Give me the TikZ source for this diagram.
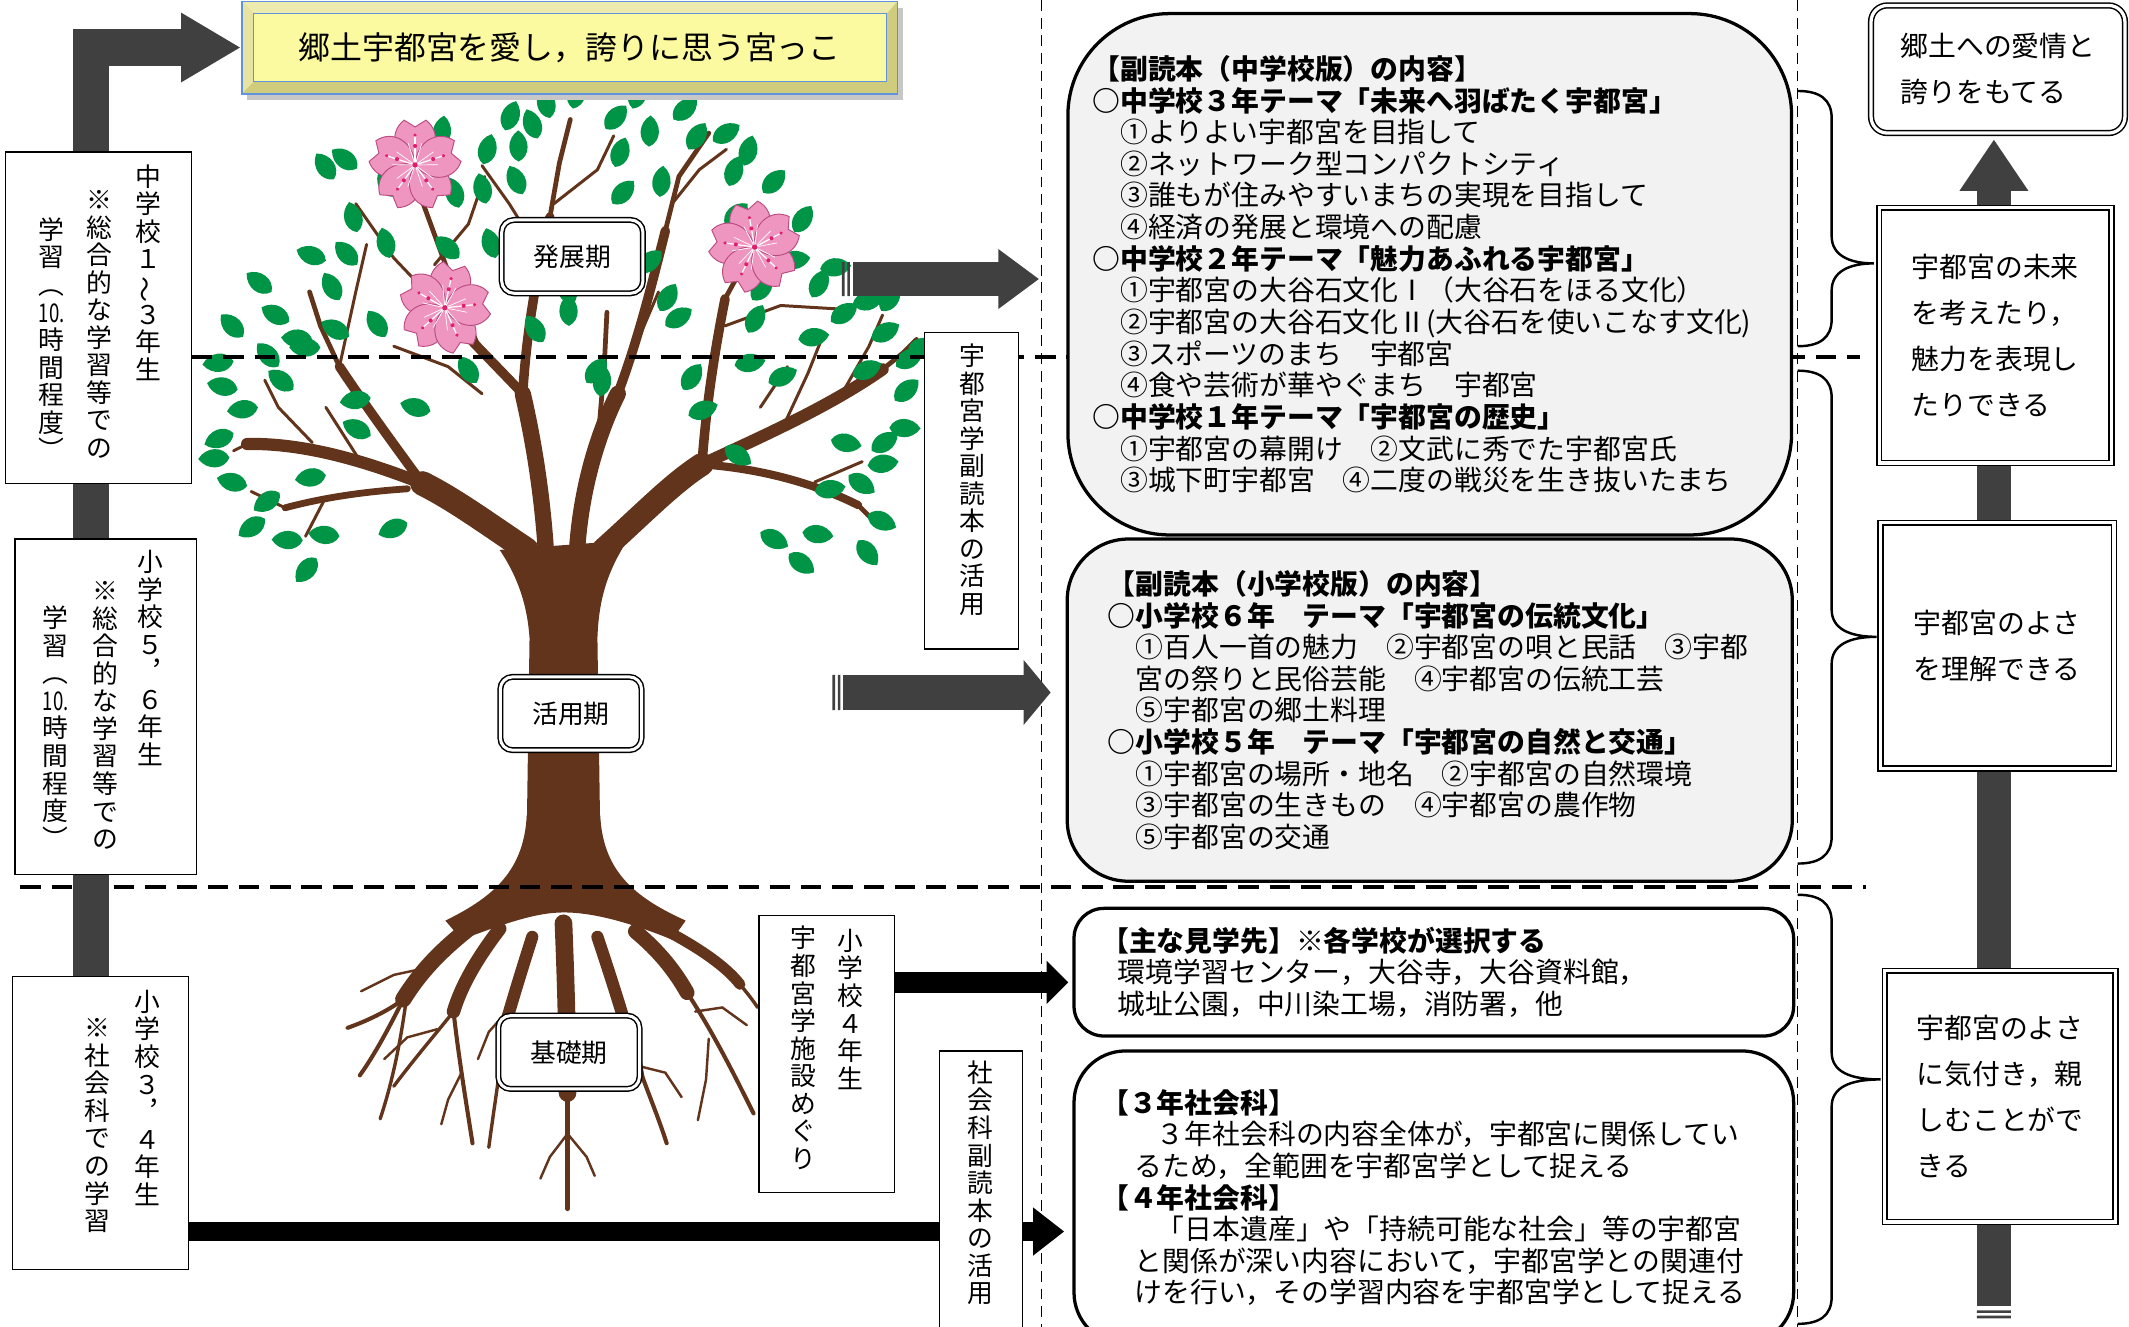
\documentclass[tikz,border=0pt]{standalone}
\usepackage{fontspec}
\usepackage{graphicx}
\setmainfont{Noto Sans CJK JP}
\usetikzlibrary{arrows.meta}

\definecolor{bark}{RGB}{97,52,27}
\definecolor{leafgreen}{RGB}{0,148,70}
\definecolor{petal}{RGB}{238,150,192}
\definecolor{petaledge}{RGB}{186,76,130}
\definecolor{stamen}{RGB}{225,30,110}
\definecolor{arrowgray}{RGB}{64,64,64}
\definecolor{boxgray}{RGB}{242,242,242}
\definecolor{goalface}{RGB}{252,250,160}
\definecolor{goalbevel}{RGB}{208,204,126}
\definecolor{goaltop}{RGB}{236,234,172}
\definecolor{goalline}{RGB}{96,146,222}

\pgfdeclarelayer{treelayer}
\pgfdeclarelayer{arrowlayer}
\pgfsetlayers{treelayer,arrowlayer,main}

\makeatletter
\newcommand{\tate}[1]{\vbox{\@tfor\tatec:=#1\do{\hbox to 1em{\hss\tatec\hss}}}}
\makeatother
\newcommand{\wave}{\rotatebox[origin=c]{90}{～}}
\newcommand{\ten}{\scalebox{0.72}[1]{10.}}
\newcommand{\sidebrace}[4]{% top, tip, bottom, tip x
	\draw[line width=1.8pt] (1324,#1) .. controls (1340,#1) and (1349,{#1+6}) .. (1349,{#1+20})
		-- (1349,{#2-20}) .. controls (1349,{#2-6}) and (1362,#2) .. (#4,#2)
		.. controls (1362,#2) and (1349,{#2+6}) .. (1349,{#2+20})
		-- (1349,{#3-20}) .. controls (1349,{#3-6}) and (1340,#3) .. (1324,#3);}

\tikzset{
	leaf/.pic={\fill[leafgreen] (0,0) .. controls (4,9) and (17,9) .. (23,0) .. controls (17,-9) and (4,-9) .. (0,0);},
	sakura/.pic={
		\foreach \r in {0,72,...,288}
			\filldraw[fill=petal,draw=petaledge,line width=0.7pt,rotate=\r] (0,0) .. controls (-16,-6) and (-20,-24) .. (-8,-33) -- (0,-28) -- (8,-33) .. controls (20,-24) and (16,-6) .. (0,0);
		\foreach \r in {0,72,...,288}{
			\draw[white,line width=0.9pt,rotate=\r] (0,0) -- (0,-22);
			\draw[white,line width=0.5pt,rotate=\r] (0,0) -- (5,-16) (0,0) -- (-5,-16);
			\fill[stamen,rotate=\r] (0,-14) circle (1.5) (0,-22) circle (1.3);}
		\fill[stamen] (0,0) circle (2);
	},
	limb/.style={bark,line cap=round},
	vbox/.style={draw,fill=white,line width=0.9pt},
	tatecol/.style={anchor=north,inner sep=0pt,font=\fontsize{19}{20.3}\selectfont},
	textbox/.style={draw,line width=2.4pt,align=left,inner ysep=0pt,font=\fontsize{20.5}{23.3}\selectfont},
	phase/.style={draw,double,line width=1.1pt,double distance=2.2pt,fill=white,rounded corners=9pt,minimum width=104,minimum height=54,font=\fontsize{19}{20}\selectfont},
	aimbox/.style={draw,double,line width=1.1pt,double distance=2.4pt,fill=white,align=left,font=\fontsize{20.5}{34}\selectfont},
	sepline/.style={line width=3pt,dash pattern=on 15pt off 8pt},
	colline/.style={line width=0.9pt,dash pattern=on 8pt off 5pt}
}

\begin{document}
\begin{tikzpicture}[x=1pt,y=-1pt]
	\useasboundingbox (0,0) rectangle (1568,977);

	% goal
	\fill[black!22] (182,6) rectangle (665,74);
	\node[draw=goalline,line width=1.2pt,fill=goalbevel,minimum width=483,minimum height=68,font=\fontsize{23.5}{24}\selectfont,
		path picture={
			\fill[goaltop] (path picture bounding box.north west) -- (path picture bounding box.north east) -- ([shift={(-8,9)}]path picture bounding box.north east) -- ([shift={(9,9)}]path picture bounding box.north west) -- cycle;
			\fill[goaltop!80!goalbevel] (path picture bounding box.north west) -- ([shift={(9,9)}]path picture bounding box.north west) -- ([shift={(9,-9)}]path picture bounding box.south west) -- (path picture bounding box.south west) -- cycle;
			\filldraw[fill=goalface,draw=goalline,line width=0.8pt] ([shift={(9,9)}]path picture bounding box.north west) rectangle ([shift={(-8,-9)}]path picture bounding box.south east);
		}] (goal) at (419.5,35) {郷土宇都宮を愛し，誇りに思う宮っこ};

	% left column
	\node[vbox,minimum width=137,minimum height=244] (j13) at (72.5,234) {};
	\node[tatecol] at (109,121) {\tate{中学校１{\wave}３年生}};
	\node[tatecol] at (73,140) {\tate{※総合的な学習等での}};
	\node[tatecol] at (38,160) {\tate{学習︵{\ten}時間程度︶}};
	\node[vbox,minimum width=134,minimum height=247] (e56) at (78,520.5) {};
	\node[tatecol] at (111,405) {\tate{小学校５︐６年生}};
	\node[tatecol] at (77.5,428) {\tate{※総合的な学習等での}};
	\node[tatecol] at (41,446) {\tate{学習︵{\ten}時間程度︶}};
	\node[vbox,minimum width=130,minimum height=216] (e34) at (74,827) {};
	\node[tatecol] at (108.5,729) {\tate{小学校３︐４年生}};
	\node[tatecol] at (72,750) {\tate{※社会科での学習}};

	% tree labels
	\node[phase] (hatten) at (421.5,189) {発展期};
	\node[phase] (katsuyo) at (420.5,525.5) {活用期};
	\node[phase] (kiso) at (419,775) {基礎期};

	% middle column
	\node[vbox,minimum width=69,minimum height=233] (fk1) at (715.5,361.5) {};
	\node[tatecol] at (716,253) {\tate{宇都宮学副読本の活用}};
	\node[vbox,minimum width=100,minimum height=204] (sk4) at (609,776) {};
	\node[tatecol] at (626,684) {\tate{小学校４年生}};
	\node[tatecol] at (591.5,682) {\tate{宇都宮学施設めぐり}};
	\node[vbox,minimum width=61,minimum height=216] (sfk) at (722.5,882) {};
	\node[tatecol] at (722,781) {\tate{社会科副読本の活用}};

	% contents
	\node[textbox,fill=boxgray,rounded corners=75pt,minimum width=533,minimum height=384,text width=497,inner xsep=18pt] (cj) at (1053,202) {%
		{\bfseries 【副読本（中学校版）の内容】}\\
		{\bfseries ○中学校３年テーマ「未来へ羽ばたく宇都宮」}\\
		　①よりよい宇都宮を目指して\\
		　②ネットワーク型コンパクトシティ\\
		　③誰もが住みやすいまちの実現を目指して\\
		　④経済の発展と環境への配慮\\
		{\bfseries ○中学校２年テーマ「魅力あふれる宇都宮」}\\
		　①宇都宮の大谷石文化Ⅰ（大谷石をほる文化）\\
		　②宇都宮の大谷石文化Ⅱ(大谷石を使いこなす文化)\\
		　③スポーツのまち　宇都宮\\
		　④食や芸術が華やぐまち　宇都宮\\
		{\bfseries ○中学校１年テーマ「宇都宮の歴史」}\\
		　①宇都宮の幕開け　②文武に秀でた宇都宮氏\\
		　③城下町宇都宮　④二度の戦災を生き抜いたまち};
	\node[textbox,fill=boxgray,rounded corners=45pt,minimum width=534,minimum height=252,text width=474,inner xsep=30pt] (ce) at (1053,523) {%
		{\bfseries 【副読本（小学校版）の内容】}\\
		{\bfseries ○小学校６年　テーマ「宇都宮の伝統文化」}\\
		　①百人一首の魅力　②宇都宮の唄と民話　③宇都\\
		　宮の祭りと民俗芸能　④宇都宮の伝統工芸\\
		　⑤宇都宮の郷土料理\\
		{\bfseries ○小学校５年　テーマ「宇都宮の自然と交通」}\\
		　①宇都宮の場所・地名　②宇都宮の自然環境\\
		　③宇都宮の生きもの　④宇都宮の農作物\\
		　⑤宇都宮の交通};
	\node[textbox,fill=white,rounded corners=22pt,minimum width=530,minimum height=94,text width=490,inner xsep=20pt] (see) at (1056,716) {%
		{\bfseries 【主な見学先】※各学校が選択する}\\
		\hspace*{0.6em}環境学習センター，大谷寺，大谷資料館，\\
		\hspace*{0.6em}城址公園，中川染工場，消防署，他};
	\node[textbox,fill=white,rounded corners=38pt,minimum width=530,minimum height=216,text width=490,inner xsep=20pt] (soc) at (1056,882) {%
		{\bfseries 【３年社会科】}\\
		\hspace*{2em}３年社会科の内容全体が，宇都宮に関係してい\\
		\hspace*{1.2em}るため，全範囲を宇都宮学として捉える\\
		{\bfseries 【４年社会科】}\\
		\hspace*{2em}「日本遺産」や「持続可能な社会」等の宇都宮\\
		\hspace*{1.2em}と関係が深い内容において，宇都宮学との関連付\\
		\hspace*{1.2em}けを行い，その学習内容を宇都宮学として捉える};

	% aims
	\node[aimbox,rounded corners=12pt,minimum width=187,minimum height=94] (rA) at (1471.5,51) {郷土への愛情と\\誇りをもてる};
	\node[aimbox,minimum width=171,minimum height=188] (rB) at (1469.5,247) {宇都宮の未来\\を考えたり，\\魅力を表現し\\たりできる};
	\node[aimbox,minimum width=172,minimum height=181] (rC) at (1471,475.5) {宇都宮のよさ\\を理解できる};
	\node[aimbox,minimum width=170,minimum height=185] (rD) at (1473,807.5) {宇都宮のよさ\\に気付き，親\\しむことがで\\きる};

	\sidebrace{67}{194}{255}{1380}
	\sidebrace{273}{469}{636}{1382}
	\sidebrace{659}{795}{975}{1385}

	\begin{pgfonlayer}{arrowlayer}
		\draw[sepline] (j13.east |- 0,263) -- (1370,263);
		\draw[sepline] (15,653) -- (1374,653);
		\draw[colline] (767,0) -- (767,977);
		\draw[colline] (1324,0) -- (1324,977);
		% arrows
		\coordinate (bar) at (67,0);
		\draw[arrowgray,line width=27pt,-{Triangle[length=44pt,width=48pt]}] (e34.north -| bar) -- (bar |- goal.west) -- (goal.west);
		\coordinate (rbot) at (1468.5,962);
		\draw[arrowgray,line width=25pt,-{Triangle[length=38pt,width=48pt]},shorten >=4pt] (rbot) -- (rbot |- rA.south);
		\fill[arrowgray] (1456,965) rectangle (1481,967) (1456,969) rectangle (1481,971);
		\coordinate (t1) at (628,205.5);
		\draw[arrowgray,line width=25pt,-{Triangle[length=30pt,width=42pt]},shorten >=20pt] (t1) -- (t1 -| cj.west);
		\fill[arrowgray] (620,193) rectangle (622,218) (624,193) rectangle (626,218);
		\coordinate (t2) at (621,510);
		\draw[arrowgray,line width=26pt,-{Triangle[length=20pt,width=47pt]},shorten >=11pt] (t2) -- (t2 -| ce.west);
		\fill[arrowgray] (613,497) rectangle (615,523) (617,497) rectangle (619,523);
		\coordinate (a4) at (0,723.5);
		\draw[line width=15pt,-{Triangle[length=16pt,width=31pt]},shorten >=3pt] (sk4.east |- a4) -- (see.west |- a4);
		\coordinate (a3) at (0,907);
		\draw[line width=14.5pt,-{Triangle[length=23pt,width=34pt]},shorten >=6pt] (e34.east |- a3) -- (soc.west |- a3);
	\end{pgfonlayer}

	\begin{pgfonlayer}{treelayer}
		% trunk and roots
		\fill[bark] (388,610) -- (390,470) .. controls (388,440) and (378,420) .. (368,405) -- (462,398) .. controls (448,420) and (441,440) .. (440,470) -- (442,610) -- cycle;
		\fill[bark] (388,600) .. controls (386,640) and (365,660) .. (328,678) -- (340,692) .. controls (372,680) and (395,672) .. (415,672) .. controls (438,672) and (465,680) .. (495,692) -- (505,678) .. controls (465,660) and (444,640) .. (442,600) -- cycle;
		\begin{scope}[limb]
			% roots
			\draw[line width=12pt] (345,684) .. controls (325,700) and (310,715) .. (297,736);
			\draw[line width=3pt] (297,736) .. controls (285,745) and (270,752) .. (256,757);
			\draw[line width=3pt] (297,736) .. controls (285,760) and (275,778) .. (265,792);
			\draw[line width=2.5pt] (300,730) .. controls (295,770) and (288,800) .. (280,824);
			\draw[line width=10pt] (368,684) .. controls (352,705) and (340,725) .. (334,745);
			\draw[line width=3pt] (334,745) .. controls (338,780) and (343,810) .. (348,842);
			\draw[line width=2.5pt] (334,745) .. controls (318,765) and (305,780) .. (290,800);
			\draw[line width=9pt] (392,690) .. controls (384,715) and (378,735) .. (373,752);
			\draw[line width=2.5pt] (373,752) .. controls (368,790) and (364,815) .. (360,845);
			\draw[line width=13pt] (415,680) .. controls (417,730) and (418,770) .. (418,805);
			\draw[line width=4pt] (418,805) .. controls (418,840) and (418,865) .. (418,890);
			\draw[line width=9pt] (440,690) .. controls (450,720) and (458,745) .. (465,770);
			\draw[line width=3pt] (465,770) .. controls (475,800) and (484,820) .. (491,842);
			\draw[line width=11pt] (468,686) .. controls (485,700) and (497,715) .. (506,731);
			\draw[line width=3pt] (506,731) .. controls (525,760) and (540,790) .. (555,820);
			\draw[line width=8pt] (488,684) .. controls (515,698) and (535,712) .. (545,725);
			\draw[line width=2.5pt] (545,725) .. controls (550,731) and (554,736) .. (558,742);
			\foreach \p in {{(318,712)--(290,718)--(266,730)},{(322,758)--(300,764)--(283,780)},{(340,790)--(330,810)--(325,828)},
				{(418,835)--(405,852)--(398,868)},{(418,835)--(432,852)--(438,866)},{(470,785)--(490,790)--(502,808)},
				{(512,745)--(532,742)--(550,755)},{(522,765)--(520,795)--(514,825)},{(376,742)--(360,760)--(352,780)},
				{(455,745)--(470,770)--(474,795)}}
				\draw[line width=1.8pt] \p;
			% limbs
			\draw[line width=18pt] (388,405) .. controls (358,385) and (335,368) .. (311,356);
			\draw[line width=17pt] (444,405) .. controls (472,380) and (495,356) .. (517,342);
			\draw[line width=12pt] (402,405) .. controls (399,360) and (392,320) .. (385,290);
			\draw[line width=12pt] (425,405) .. controls (428,360) and (440,320) .. (455,290);
			\draw[line width=9pt] (311,356) .. controls (280,344) and (230,326) .. (182,327);
			\draw[line width=7pt] (311,356) .. controls (292,330) and (270,300) .. (250,270);
			\draw[line width=5pt] (300,360) .. controls (270,362) and (240,366) .. (210,374);
			\draw[line width=7pt] (385,290) .. controls (366,270) and (346,250) .. (330,232);
			\draw[line width=7pt] (385,290) .. controls (388,240) and (396,200) .. (405,160);
			\draw[line width=7pt] (455,290) .. controls (470,250) and (480,210) .. (490,170);
			\draw[line width=9pt] (517,342) .. controls (560,322) and (610,300) .. (650,272);
			\draw[line width=7pt] (517,342) .. controls (520,300) and (526,260) .. (534,220);
			\draw[line width=6pt] (517,342) .. controls (560,345) and (600,356) .. (632,372);
			\foreach \p in {{(250,270)--(236,240)--(228,215)},{(405,160)--(412,120)--(420,88)},{(490,170)--(500,130)--(522,98)},
				{(534,220)--(545,200)--(552,190)},{(650,272)--(665,260)--(675,250)},{(632,372)--(645,385)},
				{(355,262)--(330,200)--(308,140)},{(440,330)--(445,270)--(447,230)}}
				\draw[line width=3.5pt] \p;
			\foreach \p in {{(263,336)--(240,300)},{(230,326)--(205,300)--(195,280)},{(250,270)--(262,215)--(270,180)},
				{(330,232)--(290,190)--(262,150)},{(320,195)--(345,165)--(357,130)},{(400,190)--(375,150)--(355,122)},
				{(408,150)--(440,125)--(452,100)},{(495,150)--(515,125)--(535,110)},{(534,240)--(575,225)--(625,228)},
				{(575,318)--(595,275)--(605,250)},{(620,290)--(640,255)--(650,232)},{(600,355)--(635,340)},
				{(210,374)--(185,362)},{(240,366)--(225,395)},{(470,250)--(485,215)},{(355,290)--(330,270)--(290,255)},
				{(560,300)--(580,270)},{(182,327)--(172,332)}}
				\draw[line width=2.2pt] \p;
		\end{scope}
		% leaves
		\foreach \x/\y [count=\i] in {405/87,422/80,446/95,478/108,507/110,525/104,537/137,453/123,451/150,486/145,
			382/119,356/121,385/143,338/153,324/108,263/124,246/132,263/171,240/192,263/195,287/190,338/190,358/150,
			250/221,230/250,213/237,179/248,172/266,175/287,216/287,236/256,257/248,284/248,273/293,317/303,273/321,
			172/319,169/337,182/358,206/363,240/350,223/398,233/411,338/235,351/282,422/224,419/240,432/282,442/292,
			486/229,490/240,503/287,507/306,541/269,551/245,566/282,588/250,598/219,612/237,628/224,649/229,642/250,
			669/256,659/295,628/277,612/324,642/332,639/343,639/379,632/398,591/392,581/408,534/329,554/221,534/166,
			574/193,585/171,200/215,205/270,190/300,290/145,372/96,396/102,466/80,496/88,548/122,562/142,604/198,
			660/270,655/315,625/350,600/362,560/392,250/395,195/382,300/385,470/200,400/252,365/190}{
			\pgfmathsetmacro\a{atan2(330-\y,\x-415)+mod(\i*47,70)-35}
			\pic[rotate=\a] at (\x,\y) {leaf};
		}
		% blossoms
		\pic at (305.7,121.5) {sakura};
		\pic[rotate=-12] at (327.6,226.7) {sakura};
		\pic[rotate=10] at (555.8,182) {sakura};
	\end{pgfonlayer}
\end{tikzpicture}
\end{document}
